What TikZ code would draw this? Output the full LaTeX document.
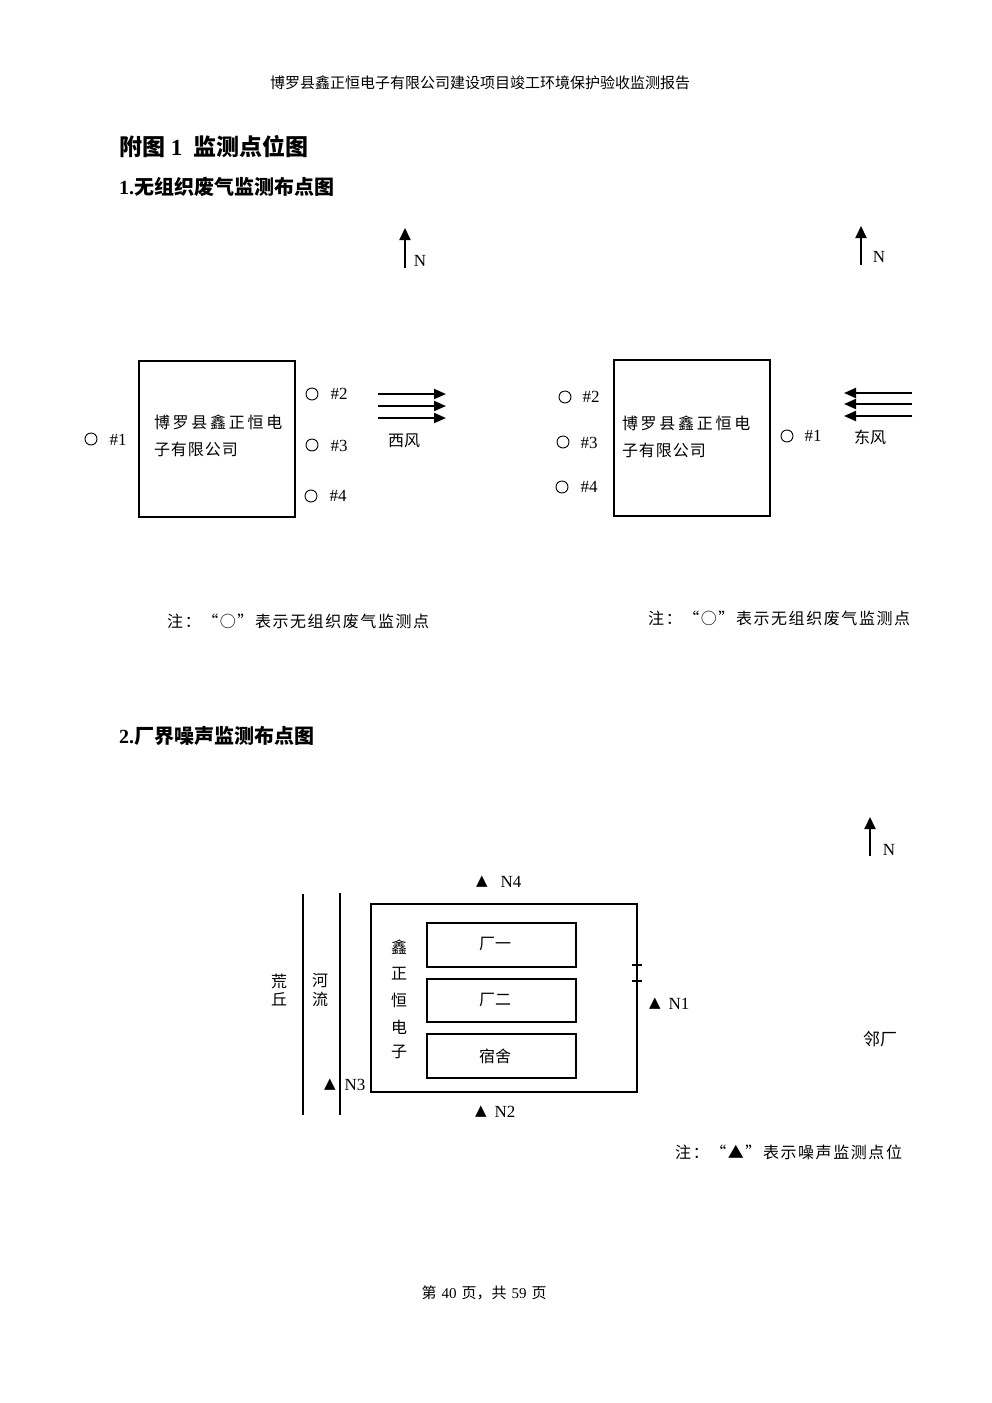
\documentclass[tikz,border=0pt]{standalone}
\usepackage{fontspec}
\usetikzlibrary{arrows.meta}
\setmainfont{Liberation Serif}
\newfontfamily\cjk{Noto Sans CJK SC}
\newfontfamily\cjkbox[LetterSpace=17]{Noto Sans CJK SC}
\newfontfamily\cjkpl[LetterSpace=6]{Noto Sans CJK SC}
\newfontfamily\cjknote[LetterSpace=9.8]{Noto Sans CJK SC}
\newfontfamily\symfont{DejaVu Sans}
\newcommand{\fs}[1]{\fontsize{#1}{#1}\selectfont}
\tikzset{
  txt/.style={inner sep=0pt,outer sep=0pt,font=\fs{16}\cjk},
  lat/.style={inner sep=0pt,outer sep=0pt,font=\fs{17}},
  head/.style={inner sep=0pt,anchor=west,font=\fs{20}\bfseries},
  ring/.style={circle,draw,line width=0.9pt,minimum size=12pt,inner sep=0pt},
  site/.style={draw,line width=2.2pt,inner sep=0pt},
  house/.style={draw,line width=2.8pt,inner sep=0pt},
  yard/.style={draw,line width=2.2pt,inner sep=0pt},
  tri/.style={inner sep=0pt,font=\fs{15}\symfont},
  wind/.style={line width=2pt,-{Triangle[length=12pt,width=10pt]}},
  north/.style={line width=2pt,-{Triangle[length=12pt,width=11pt]}},
  road/.style={line width=2pt},
  note/.style={inner sep=0pt,anchor=west,font=\fs{16}\cjknote}
}
\begin{document}
\begin{tikzpicture}[x=1pt,y=-1pt]
\useasboundingbox (0,0) rectangle (992,1403);
\fill[white] (0,0) rectangle (992,1403);
% header and footer
\node[inner sep=0pt,font=\fs{15}\cjk] (hdr) at (480,83) {博罗县鑫正恒电子有限公司建设项目竣工环境保护验收监测报告};
\node[inner sep=0pt,font=\fs{15}] (ftr) at (484,1293) {{\cjk 第}\,\,40\,\,{\cjk 页，共}\,\,59\,\,{\cjk 页}};
% titles
\node[head,font=\fs{23}\bfseries] (t1) at (119,147) {{\cjk 附图} 1\ \ {\cjk 监测点位图}};
\node[head] (t2) at (119,187) {1.{\cjk 无组织废气监测布点图}};
\node[head] (t3) at (119,736) {2.{\cjk 厂界噪声监测布点图}};
% north arrows
\coordinate (na1) at (405,268); \coordinate (nb1) at (405,228);
\coordinate (na2) at (861,265); \coordinate (nb2) at (861,226);
\coordinate (na3) at (870,856); \coordinate (nb3) at (870,817);
\draw[north] (na1) -- (nb1);
\draw[north] (na2) -- (nb2);
\draw[north] (na3) -- (nb3);
\node[lat] (n1) at (420,261) {N};
\node[lat] (n2) at (879,257) {N};
\node[lat] (n3) at (889,850) {N};
% left site
\node[site,minimum width=156pt,minimum height=156pt] (boxL) at (217,439) {};
\node[txt,anchor=west,font=\fs{16}\cjkbox] (boxL1) at (154,422) {博罗县鑫正恒电};
\node[txt,anchor=west,font=\fs{16}\cjkpl] (boxL2) at (154,449) {子有限公司};
\node[ring] (La) at (91,439) {};  \node[lat] (Lat) at (118,440) {\#1};
\node[ring] (Lb) at (312,394) {}; \node[lat] (Lbt) at (339,394) {\#2};
\node[ring] (Lc) at (312,445) {}; \node[lat] (Lct) at (339,446) {\#3};
\node[ring] (Ld) at (311,496) {}; \node[lat] (Ldt) at (338,496) {\#4};
\coordinate (wa1) at (378,394); \coordinate (wb1) at (446,394);
\coordinate (wa2) at (378,406); \coordinate (wb2) at (446,406);
\coordinate (wa3) at (378,418); \coordinate (wb3) at (446,418);
\draw[wind] (wa1) -- (wb1);
\draw[wind] (wa2) -- (wb2);
\draw[wind] (wa3) -- (wb3);
\node[txt] (wl) at (404,441) {西风};
\node[note] (nl) at (167,621) {注：“○”表示无组织废气监测点};
% right site
\node[site,minimum width=156pt,minimum height=156pt] (boxR) at (692,438) {};
\node[txt,anchor=west,font=\fs{16}\cjkbox] (boxR1) at (622,423) {博罗县鑫正恒电};
\node[txt,anchor=west,font=\fs{16}\cjkpl] (boxR2) at (622,450) {子有限公司};
\node[ring] (Ra) at (787,436) {}; \node[lat] (Rat) at (813,436) {\#1};
\node[ring] (Rb) at (565,397) {}; \node[lat] (Rbt) at (591,397) {\#2};
\node[ring] (Rc) at (563,442) {}; \node[lat] (Rct) at (589,443) {\#3};
\node[ring] (Rd) at (562,487) {}; \node[lat] (Rdt) at (589,487) {\#4};
\coordinate (ea1) at (912,393); \coordinate (eb1) at (844,393);
\coordinate (ea2) at (912,404); \coordinate (eb2) at (844,404);
\coordinate (ea3) at (912,416); \coordinate (eb3) at (844,416);
\draw[wind] (ea1) -- (eb1);
\draw[wind] (ea2) -- (eb2);
\draw[wind] (ea3) -- (eb3);
\node[txt] (el) at (870,437) {东风};
\node[note] (nr) at (648,618) {注：“○”表示无组织废气监测点};
% noise map
\coordinate (ra1) at (303,894); \coordinate (rb1) at (303,1115);
\coordinate (ra2) at (340,893); \coordinate (rb2) at (340,1115);
\draw[road] (ra1) -- (rb1);
\draw[road] (ra2) -- (rb2);
\node[txt] (h1) at (279,981) {荒};
\node[txt] (h2) at (279,999) {丘};
\node[txt] (r1) at (320,981) {河};
\node[txt] (r2) at (320,999) {流};
\node[yard,minimum width=266pt,minimum height=188pt] (yard) at (504,998) {};
\node[house,minimum width=149pt,minimum height=44pt] (f1) at (501.5,945) {};
\node[house,minimum width=149pt,minimum height=43pt] (f2) at (501.5,1000.5) {};
\node[house,minimum width=149pt,minimum height=44pt] (f3) at (501.5,1056) {};
\node[txt] (f1t) at (495,944) {厂一};
\node[txt] (f2t) at (495,1000) {厂二};
\node[txt] (f3t) at (495,1056) {宿舍};
\node[txt] (c1) at (399,947) {鑫};
\node[txt] (c2) at (399,974) {正};
\node[txt] (c3) at (399,1000) {恒};
\node[txt] (c4) at (399,1027) {电};
\node[txt] (c5) at (399,1052) {子};
\coordinate (ga1) at (632,965); \coordinate (gb1) at (642,965);
\coordinate (ga2) at (632,981); \coordinate (gb2) at (642,981);
\draw[line width=1.6pt] (ga1) -- (gb1);
\draw[line width=1.6pt] (ga2) -- (gb2);
\node[tri] (N4m) at (482,882) {▲}; \node[lat] (N4) at (511,882) {N4};
\node[tri] (N1m) at (655,1004) {▲}; \node[lat] (N1) at (679,1004) {N1};
\node[tri] (N3m) at (330,1085) {▲}; \node[lat] (N3) at (355,1085) {N3};
\node[tri] (N2m) at (481,1112) {▲}; \node[lat] (N2) at (505,1112) {N2};
\node[txt,font=\fs{17}\cjk] (nb) at (880,1039) {邻厂};
\node[note] (nn) at (675,1152) {注：“▲”表示噪声监测点位};
\end{tikzpicture}
\end{document}
